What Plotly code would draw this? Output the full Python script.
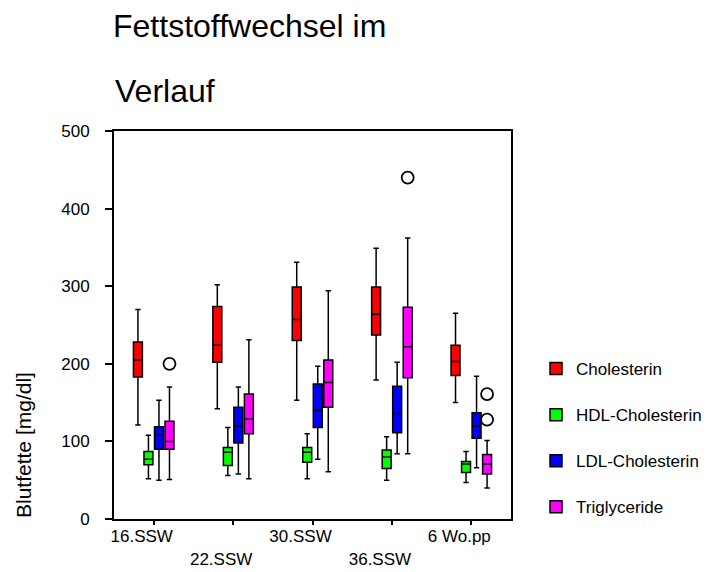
import plotly.graph_objects as go

# ---- data ----
categories = ["16.SSW", "22.SSW", "30.SSW", "36.SSW", "6 Wo.pp"]
series_names = ["Cholesterin", "HDL-Cholesterin", "LDL-Cholesterin", "Triglyceride"]
series_colors = ["#FF0000", "#00FF00", "#0000FF", "#FF00FF"]

chol_lower = [121, 142, 153, 179, 150]
chol_q1 = [183, 202, 230, 237, 185]
chol_median = [205, 224, 257, 264, 203]
chol_q3 = [228, 274, 299, 299, 224]
chol_upper = [270, 302, 331, 349, 265]
chol_outliers = None

hdl_lower = [52, 56, 52, 50, 47]
hdl_q1 = [70, 69, 73, 65, 60]
hdl_median = [77, 86, 86, 80, 71]
hdl_q3 = [87, 92, 92, 89, 74]
hdl_upper = [108, 118, 110, 106, 87]
hdl_outliers = None

ldl_lower = [50, 58, 77, 84, 66]
ldl_q1 = [90, 98, 118, 111, 104]
ldl_median = [108, 120, 140, 136, 120]
ldl_q3 = [119, 144, 174, 171, 137]
ldl_upper = [153, 170, 197, 202, 184]
ldl_outliers = None

tg_lower = [51, 52, 61, 84, 40]
tg_q1 = [90, 110, 144, 182, 58]
tg_median = [100, 129, 176, 222, 71]
tg_q3 = [126, 161, 205, 273, 83]
tg_upper = [170, 231, 294, 362, 101]
tg_outliers = [[200], [], [], [440], [161, 128]]

y_ticks = [0, 100, 200, 300, 400, 500]
# alternate rows of category labels (second row pushed down one line)
x_tick_labels = ["16.SSW", "<br>22.SSW", "30.SSW", "<br>36.SSW", "6 Wo.pp"]

title_line1 = "Fettstoffwechsel im"
title_line2 = "Verlauf"
y_title = "Blutfette [mg/dl]"

FONT = "Liberation Sans, Arial, sans-serif"

stats = [
    (chol_lower, chol_q1, chol_median, chol_q3, chol_upper, chol_outliers),
    (hdl_lower, hdl_q1, hdl_median, hdl_q3, hdl_upper, hdl_outliers),
    (ldl_lower, ldl_q1, ldl_median, ldl_q3, ldl_upper, ldl_outliers),
    (tg_lower, tg_q1, tg_median, tg_q3, tg_upper, tg_outliers),
]

fig = go.Figure()
for name, color, (lo, q1, med, q3, up, outl) in zip(series_names, series_colors, stats):
    if outl is not None:
        kw = dict(y=outl, boxpoints="outliers", jitter=0, pointpos=0)
    else:
        kw = dict(boxpoints=False)
    fig.add_trace(go.Box(
        name=name,
        x=categories,
        lowerfence=lo, q1=q1, median=med, q3=q3, upperfence=up,
        fillcolor=color,
        line=dict(color="black", width=1.5),
        marker=dict(color="black", symbol="circle-open", size=12, line=dict(width=1.8, color="black")),
        whiskerwidth=0.6,
        legendgroup=name,
        hoverinfo="skip",
        **kw,
    ))

fig.update_layout(
    width=706, height=572,
    margin=dict(l=114, r=195, t=131, b=53, autoexpand=False),
    paper_bgcolor="white", plot_bgcolor="white",
    font=dict(family=FONT, size=17, color="black"),
    boxmode="group", boxgap=0.47, boxgroupgap=0.15,
    showlegend=True,
    legend=dict(x=1.063, xanchor="left", y=0.433, yanchor="top",
                font=dict(size=17, color="black"),
                tracegroupgap=21, bgcolor="rgba(0,0,0,0)"),
    title=dict(text=title_line1, x=113 / 706, xref="container", xanchor="left",
               y=1 - 15 / 572, yref="container", yanchor="top",
               font=dict(size=32, family=FONT, color="black")),
    xaxis=dict(type="category", categoryorder="array", categoryarray=categories,
               range=[-0.5, 4.5], tickmode="array", tickvals=categories, ticktext=x_tick_labels,
               showline=True, linecolor="black", linewidth=2, mirror=True,
               ticks="outside", ticklen=4, tickwidth=1.5, tickcolor="black",
               showgrid=False, zeroline=False, tickfont=dict(size=17),
               ticklabelstandoff=-3, ticklabelshift=-12),
    yaxis=dict(range=[0, 500], tickmode="array", tickvals=y_ticks,
               showline=True, linecolor="black", linewidth=2, mirror=True,
               ticks="outside", ticklen=7, tickwidth=1.5, tickcolor="black",
               showgrid=False, zeroline=False, tickfont=dict(size=17),
               ticklabelstandoff=12),
    annotations=[
        dict(text=title_line2, xref="paper", yref="paper", x=-0.003, y=1.155,
             xanchor="left", yanchor="top", showarrow=False,
             font=dict(size=32, family=FONT, color="black")),
        dict(text=y_title, xref="paper", yref="paper", x=(23 - 114) / 397, y=(519 - 445) / 388,
             xanchor="center", yanchor="middle", textangle=-90, showarrow=False,
             font=dict(size=21, family=FONT, color="black")),
    ],
)

fig.write_html("out.html")
